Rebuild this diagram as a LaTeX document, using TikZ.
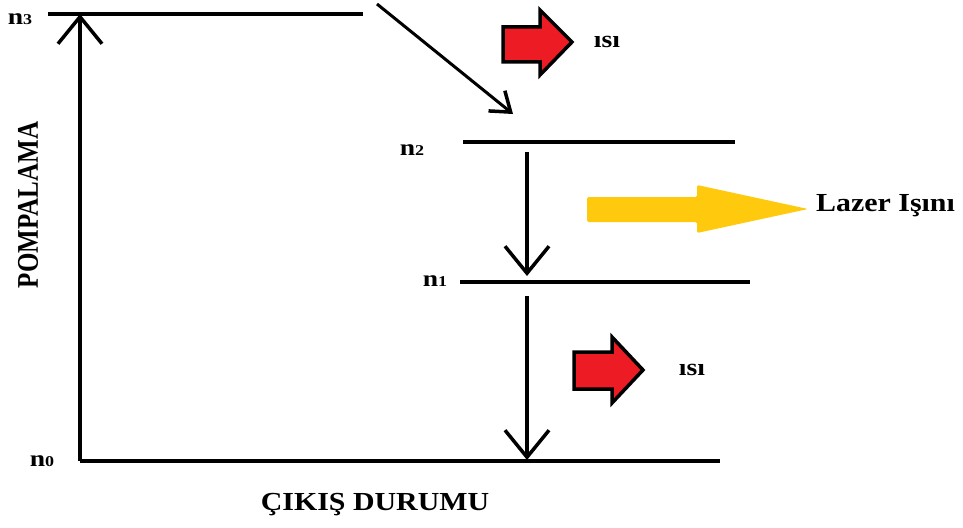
\documentclass[tikz,border=0pt]{standalone}
\usepackage{fontspec}
\setmainfont{Liberation Serif}
\usepackage{graphicx}
\usetikzlibrary{arrows.meta}
\definecolor{heatred}{HTML}{ED1C24}
\definecolor{laseryellow}{HTML}{FFC90E}
\newcommand{\lvlname}[1]{\scalebox{1.2}[1]{\fontsize{23}{23}\selectfont\bfseries n{\fontsize{15}{15}\selectfont #1}}}
\newcommand{\widetext}[2]{\scalebox{1.15}[1]{\fontsize{#1}{#1}\selectfont\bfseries #2}}
\begin{document}
\begin{tikzpicture}[x=1pt,y=-1pt,
  level/.style={line width=3.5pt},
  jump/.style={line width=3.5pt,-{Straight Barb[length=27pt,width=44pt,line width=3.5pt]}},
  smalljump/.style={line width=3pt,-{Straight Barb[length=18pt,width=26pt,line width=3.5pt]}},
  heatarrow/.style={fill=heatred,draw=black,line width=3.5pt,line join=miter},
  laserarrow/.style={fill=laseryellow,draw=none,rounded corners=1.5pt},
  lbl/.style={inner sep=0pt,anchor=center}]
\useasboundingbox (0,0) rectangle (963,527);

% energy levels
\coordinate (n3a) at (48,14);  \coordinate (n3b) at (363,14);
\coordinate (n2a) at (463,142); \coordinate (n2b) at (735,142);
\coordinate (n1a) at (460,282); \coordinate (n1b) at (750,282);
\coordinate (n0a) at (80,461);  \coordinate (n0b) at (720,461);
\draw[level] (n3a) -- (n3b);
\draw[level] (n2a) -- (n2b);
\draw[level] (n1a) -- (n1b);
\draw[level] (n0a) -- (n0b);

% transitions
\coordinate (pumpFrom) at (80,461);
\coordinate (pumpTo) at (80,14);
\draw[jump] (pumpFrom) -- (pumpTo);
\coordinate (decayFrom) at (377,4);
\coordinate (decayTo) at (513,114);
\draw[smalljump] (decayFrom) -- (decayTo);
\coordinate (laseFrom) at (527,152);
\coordinate (laseTo) at (527,276);
\draw[jump] (laseFrom) -- (laseTo);
\coordinate (dropFrom) at (527,296);
\coordinate (dropTo) at (527,460);
\draw[jump] (dropFrom) -- (dropTo);

% heat release arrows
\draw[heatarrow] (503,27) -- (540,27) -- (540,10) -- (572,42) -- (540,75) -- (540,62) -- (503,62) -- cycle;
\draw[heatarrow] (574,352) -- (612,352) -- (612,337) -- (643,370) -- (612,403) -- (612,389) -- (574,389) -- cycle;

% laser output arrow
\fill[laserarrow] (587,197) -- (697,197) -- (697,185) -- (808,209) -- (697,233) -- (697,222) -- (587,222) -- cycle;

% labels
\node[lbl] (l3) at (20,19) {\lvlname{3}};
\node[lbl] (l2) at (412,150) {\lvlname{2}};
\node[lbl] (l1) at (435,281) {\lvlname{1}};
\node[lbl] (l0) at (42,461) {\lvlname{0}};
\node[lbl] (heatTop) at (607,42) {\widetext{24}{ısı}};
\node[lbl] (heatBottom) at (692,370) {\widetext{24}{ısı}};
\node[lbl,anchor=west] (laser) at (816,206) {\widetext{26}{Lazer Işını}};
\node[lbl] (exit) at (375,505) {\widetext{26}{ÇIKIŞ DURUMU}};
\node[lbl,rotate=90] (pump) at (28,205) {\scalebox{1}[1.2]{\fontsize{25}{25}\selectfont\bfseries POMPALAMA}};
\end{tikzpicture}
\end{document}
